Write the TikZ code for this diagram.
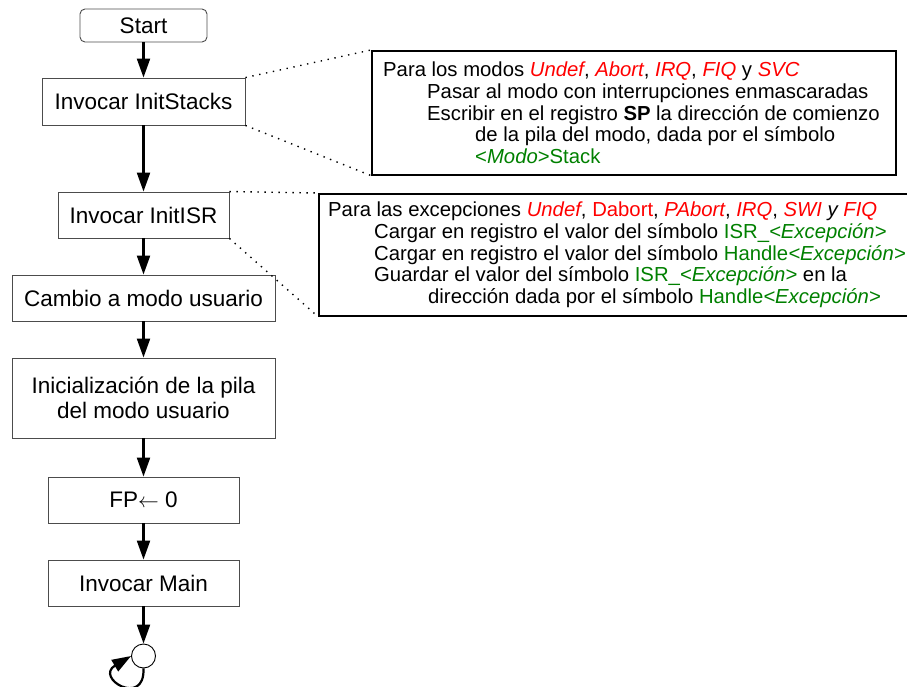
\documentclass[tikz,border=0pt]{standalone}
\usepackage{fontspec}
\setmainfont{Liberation Sans}
\usetikzlibrary{arrows.meta}
\definecolor{nred}{RGB}{255,0,0}
\definecolor{ngreen}{RGB}{0,128,0}
\newcommand\rit[1]{\textcolor{nred}{{\itshape #1}}}
\newcommand\grn[1]{\textcolor{ngreen}{#1}}
\newcommand\itx[1]{{\itshape #1}}
\begin{document}
\begin{tikzpicture}[x=1pt,y=-1pt,
  flowbox/.style={draw=black!70, line width=0.9pt, font=\fontsize{22.5}{25}\selectfont, align=center, inner sep=0pt},
  arr/.style={line width=2.2pt, -{Triangle[length=19pt,width=13pt]}},
  notebox/.style={draw=black, line width=1.6pt, anchor=north west, inner sep=0pt},
  notetext/.style={anchor=west, align=left, inner sep=0pt, font=\fontsize{20.3}{21.75}\selectfont},
  dots/.style={line width=1.4pt, dash pattern=on 1.4pt off 5.6pt}]
\useasboundingbox (0,0) rectangle (907,687);
\node[flowbox, rounded corners=5pt, minimum width=127pt, minimum height=33pt] (start) at (143.5,25.5) {Start};
\node[flowbox, minimum width=203pt, minimum height=47pt] (stacks) at (143.5,101.5) {Invocar InitStacks};
\node[flowbox, minimum width=171pt, minimum height=46pt] (isr) at (143.5,215) {Invocar InitISR};
\node[flowbox, minimum width=263pt, minimum height=46pt] (cambio) at (143.5,298) {Cambio a modo usuario};
\node[flowbox, minimum width=263pt, minimum height=80pt] (ini) at (143.5,398) {Inicialización de la pila\\del modo usuario};
\node[flowbox, minimum width=191pt, minimum height=46pt] (fp) at (143.5,500) {FP$\leftarrow$ 0};
\node[flowbox, minimum width=191pt, minimum height=46pt] (main) at (143.5,583) {Invocar Main};
\node[draw=black, line width=0.9pt, circle, minimum size=24pt, inner sep=0pt] (fin) at (143.5,656) {};

\draw[arr] (start) -- (stacks);
\draw[arr] (stacks) -- (isr);
\draw[arr] (isr) -- (cambio);
\draw[arr] (cambio) -- (ini);
\draw[arr] (ini) -- (fp);
\draw[arr] (fp) -- (main);
\draw[arr] (main) -- (fin);
\draw[arr] (fin.south) .. controls (145,708) and (94,678) .. (fin.west);

\node[notebox, minimum width=524pt, minimum height=124pt] (n1) at (371,50) {};
\node[notetext] (t1) at ([xshift=12pt]n1.west) {Para los modos \rit{Undef}, \rit{Abort}, \rit{IRQ}, \rit{FIQ} y \rit{SVC}\\
\hspace*{44pt}Pasar al modo con interrupciones enmascaradas\\
\hspace*{44pt}Escribir en el registro \textbf{SP} la dirección de comienzo\\
\hspace*{92pt}de la pila del modo, dada por el símbolo\\
\hspace*{92pt}\grn{<\itx{Modo}>Stack}};

\node[notebox, minimum width=594pt, minimum height=122pt] (n2) at (318,193) {};
\node[notetext] (t2) at ([xshift=10pt]n2.west) {Para las excepciones \rit{Undef}, \textcolor{nred}{Dabort}, \rit{PAbort}, \rit{IRQ}, \rit{SWI} \itx{y} \rit{FIQ}\\
\hspace*{46pt}Cargar en registro el valor del símbolo \grn{ISR\_\itx{<Excepción>}}\\
\hspace*{46pt}Cargar en registro el valor del símbolo \grn{Handle\itx{<Excepción>}}\\
\hspace*{46pt}Guardar el valor del símbolo \grn{ISR\_\itx{<Excepción>}} en la\\
\hspace*{100pt}dirección dada por el símbolo \grn{Handle\itx{<Excepción>}}};

\draw[dots] (stacks.north east) -- (n1.north west);
\draw[dots] (stacks.south east) -- (n1.south west);
\draw[dots] (isr.north east) -- (n2.north west);
\draw[dots] (isr.south east) -- (n2.south west);
\end{tikzpicture}
\end{document}
